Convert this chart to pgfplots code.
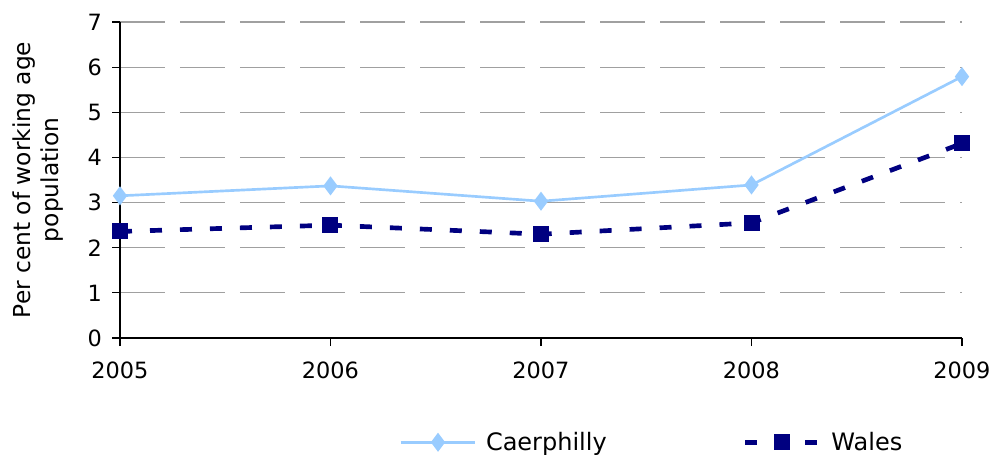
\documentclass[border=0pt]{standalone}
\usepackage{fontspec}
\setmainfont{DejaVu Sans}
\usepackage{pgfplots}
\pgfplotsset{compat=1.18}
\definecolor{cblue}{HTML}{99CCFF}
\definecolor{wnavy}{HTML}{000080}
\definecolor{gridg}{HTML}{A0A0A0}
\begin{document}
\begin{tikzpicture}
\begin{axis}[
  scale only axis,
  width=631.5pt, height=237pt,
  xmin=2005, xmax=2009, ymin=0, ymax=7,
  xtick={2005,2006,2007,2008,2009},
  ytick={0,1,2,3,4,5,6,7},
  ticklabel style={font=\fontsize{16.8pt}{20pt}\selectfont},
  xticklabel style={/pgf/number format/1000 sep={}, yshift=-8pt},
  yticklabel style={xshift=-4pt},
  /pgf/number format/assume math mode=true,
  axis x line=bottom, axis y line=left,
  axis line style={-, black, line width=0.8pt},
  tick align=outside,
  major tick length=6pt,
  tick style={black, line width=0.8pt},
  ymajorgrids,
  major grid style={gridg, line width=0.8pt, dash pattern=on 34pt off 11pt},
  ylabel={Per cent of working age\\population},
  ylabel style={align=center, at={(axis description cs:-0.097,0.5)}, anchor=center, font=\fontsize{17.5pt}{21pt}\selectfont},
  legend columns=2,
  legend style={draw=none, fill=none, at={(axis description cs:0.632,-0.33)}, anchor=center,
    /tikz/every odd column/.append style={column sep=5pt},
    /tikz/every even column/.append style={column sep=100pt}, font=\fontsize{18pt}{21pt}\selectfont},
  legend image code/.code={\draw[#1] (0pt,0pt) -- (56pt,0pt); \draw[#1, solid] plot coordinates {(28pt,0pt)};},
  clip=false,
]
\addplot[cblue, line width=2pt, mark=diamond*, mark size=5.5pt, mark options={fill=cblue, draw=cblue, solid}]
  coordinates {(2005,3.15) (2006,3.37) (2007,3.03) (2008,3.39) (2009,5.79)};
\addlegendentry{Caerphilly}
\addplot[wnavy, line width=3.5pt, dash pattern=on 9pt off 13.5pt, mark=square*, mark size=5.5pt, mark options={fill=wnavy, draw=wnavy, solid, line width=1pt}]
  coordinates {(2005,2.36) (2006,2.50) (2007,2.30) (2008,2.55) (2009,4.31)};
\addlegendentry{Wales}
\end{axis}
\pgfresetboundingbox
\path[use as bounding box] (-90pt,-89.25pt) rectangle (654.75pt,253.5pt);
\end{tikzpicture}
\end{document}
